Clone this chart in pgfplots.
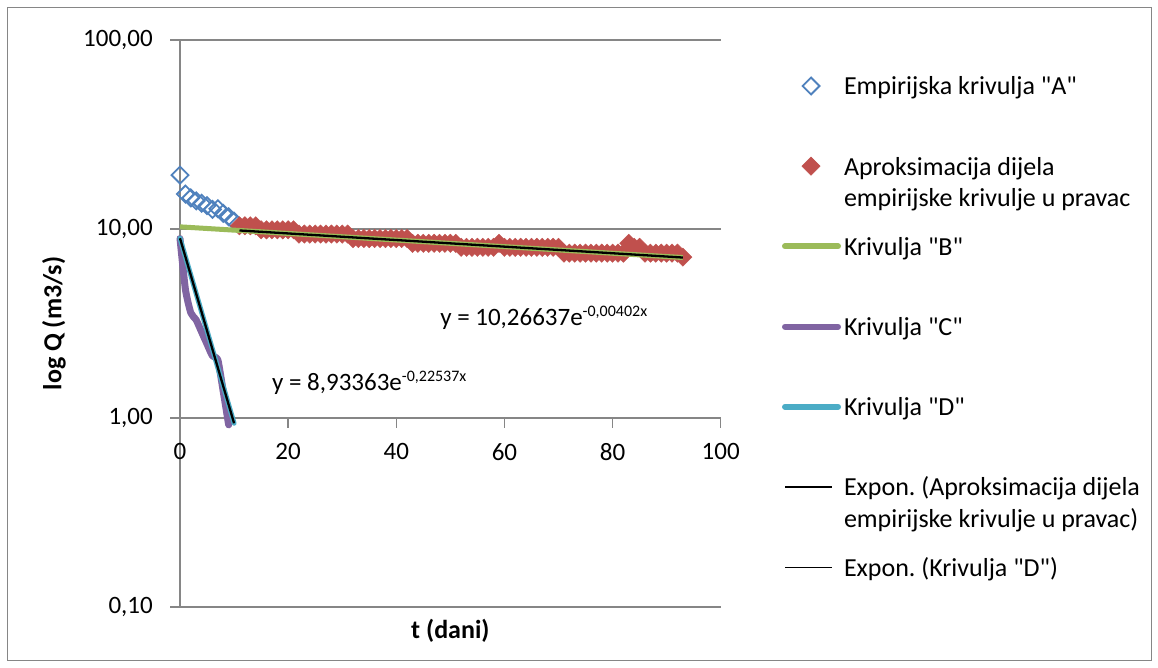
\documentclass[border=0pt]{standalone}
\usepackage{fontspec}
\setmainfont{Carlito}[Ligatures=TeXOff]
\usepackage{pgfplots}
\pgfplotsset{compat=1.18}
\definecolor{cA}{HTML}{4F81BD}
\definecolor{cR}{HTML}{C0504D}
\definecolor{cG}{HTML}{9BBB59}
\definecolor{cP}{HTML}{8064A2}
\definecolor{cC}{HTML}{4BACC6}
\definecolor{axgray}{HTML}{868686}
\newcommand\tfont{\fontsize{26bp}{31.5bp}\selectfont}
\newcommand\kfont{\fontsize{25bp}{30bp}\selectfont}
\newcommand\sfont{\fontsize{16bp}{18bp}\selectfont}
\pgfplotsset{
  leglinecol/.style={legend image code/.code={\draw[##1,line width=6bp,line cap=round] (1bp,0bp) -- (54bp,0bp);}},
  leglineblk/.style={legend image code/.code={\draw[##1,line width=1.3bp] (1bp,0bp) -- (48bp,0bp);}},
  legmark/.style={legend image code/.code={\draw[##1] plot coordinates {(27bp,0bp)};}},
}
\frenchspacing
\begin{document}
\begin{tikzpicture}
\useasboundingbox (0,0) rectangle (1158bp,668bp);
\draw[axgray, line width=1bp] (7bp,7bp) rectangle (1151bp,660bp);
\begin{axis}[
  at={(180bp,61bp)}, anchor=south west,
  scale only axis, width=540.7bp, height=567bp,
  ymode=log, xmin=0, xmax=100, ymin=0.1, ymax=100,
  axis x line=middle, axis y line=left,
  every inner x axis line/.append style={-},
  every outer y axis line/.append style={-},
  axis line style={-, line width=1.3bp, axgray},
  tick style={line width=1.3bp, axgray},
  tick align=outside, major tick length=10bp,
  yminorticks=false, xminorticks=false,
  ytick={0.1,1,10,100}, yticklabels={{0,10},{1,00},{10,00},{100,00}},
  xtick={0,20,40,60,80,100}, xticklabels={0,20,40,60,80,100},
  hide obscured x ticks=false,
  ymajorgrids, major grid style={line width=1.3bp, axgray},
  yticklabel style={font=\kfont, anchor=east, inner sep=0pt, xshift=-17bp},
  xticklabel style={font=\kfont, anchor=north, inner sep=0pt, yshift=-15bp},
  every axis y label/.style={at={(axis description cs:-0.233,0.5)}, rotate=90, anchor=center, font=\tfont\bfseries},
  every axis x label/.style={at={(axis description cs:0.5,-0.0423)}, anchor=center, font=\tfont\bfseries},
  ylabel={log Q (m3/s)}, xlabel={t (dani)},
  clip=false, clip marker paths=true,
  legend cell align=left,
  legend style={draw=none, fill=none, at={(1.11338,0.9896)}, anchor=north west,
    inner sep=0pt, outer sep=0pt, column sep=3bp, row sep=0pt, font=\tfont,
    nodes={inner sep=0pt, text height=49.1bp, text depth=31.1bp}},
]
% Empirijska krivulja "A"
\addplot[only marks, mark=square, mark size=6bp, mark options={rotate=45, line width=1.8bp, draw=cA, fill=none}, legmark] coordinates {
(0,19.3) (1,15.3) (2,14.6) (3,14.1) (4,13.7) (5,13.3) (6,12.7) (7,12.8) (8,12.1) (9,11.6) (10,11.0)};
\addlegendentry{Empirijska krivulja "A"}
% Aproksimacija
\addplot[only marks, mark=square*, mark size=6.5bp, mark options={rotate=45, draw=cR, fill=cR, line width=0.4bp}, legmark] coordinates {
(11,10.4) (12,10.4) (13,10.4) (14,10.4)
(15,9.9) (16,9.9) (17,9.9) (18,9.9) (19,9.9) (20,9.9) (21,9.9)
(22,9.4) (23,9.4) (24,9.4) (25,9.4) (26,9.4) (27,9.4) (28,9.4) (29,9.4) (30,9.4) (31,9.4)
(32,8.9) (33,8.9) (34,8.9) (35,8.9) (36,8.9) (37,8.9) (38,8.9) (39,8.9) (40,8.9) (41,8.9) (42,8.9)
(43,8.4) (44,8.4) (45,8.4) (46,8.4) (47,8.4) (48,8.4) (49,8.4) (50,8.4) (51,8.4)
(52,8.0) (53,8.0) (54,8.0) (55,8.0) (56,8.0) (57,8.0) (58,8.0)
(59,8.4)
(60,8.0) (61,8.0) (62,8.0) (63,8.0) (64,8.0) (65,8.0) (66,8.0) (67,8.0) (68,8.0) (69,8.0) (70,8.0)
(71,7.45) (72,7.45) (73,7.45) (74,7.45) (75,7.45) (76,7.45) (77,7.45) (78,7.45) (79,7.45) (80,7.45) (81,7.45) (82,7.45)
(83,8.4) (84,8.0) (85,8.0)
(86,7.45) (87,7.45) (88,7.45) (89,7.45) (90,7.45) (91,7.45) (92,7.45)
(93,7.1)};
\addlegendentry{\parbox[t]{330bp}{Aproksimacija dijela\\empirijske krivulje u pravac}}
% Krivulja B
\addplot[cG, line width=5bp, no markers, leglinecol] coordinates {
(0,10.266) (10,9.862) (20,9.473) (30,9.100) (40,8.741) (50,8.397) (60,8.066) (70,7.748) (80,7.443) (90,7.149) (93,7.064)};
\addlegendentry{Krivulja "B"}
% Krivulja C
\addplot[cP, line width=7bp, no markers, line join=round, line cap=round, smooth, tension=0.35, leglinecol] coordinates {
(0,8.9) (1,4.8) (2,3.6) (3,3.3) (4,2.85) (5,2.46) (6,2.13) (7,2.03) (8,1.38) (9,0.92)};
\addlegendentry{Krivulja "C"}
% Krivulja D
\addplot[cC, line width=5bp, no markers, line cap=round, leglinecol] coordinates {
(0,8.934) (1,7.131) (2,5.692) (3,4.544) (4,3.627) (5,2.895) (6,2.311) (7,1.845) (8,1.472) (9,1.175) (10,0.938)};
\addlegendentry{Krivulja "D"}
% Expon. trend (Aproksimacija)
\addplot[black, line width=2.3bp, no markers, leglineblk] coordinates {
(11,9.822) (30,9.100) (50,8.397) (70,7.748) (93,7.064)};
\addlegendentry{\parbox[t]{330bp}{Expon. (Aproksimacija dijela\\empirijske krivulje u pravac)}}
% Expon. trend (D)
\addplot[black, line width=2.3bp, no markers, leglineblk] coordinates {
(0,8.934) (5,2.895) (10,0.938)};
\addlegendentry{Expon. (Krivulja "D")}
\node[anchor=base west, font=\kfont, inner sep=0pt] at (axis cs:48.1,3.07) {y = 10,26637e\raisebox{9bp}{\sfont -0,00402x}};
\node[anchor=base west, font=\kfont, inner sep=0pt] at (axis cs:17.0,1.39) {y = 8,93363e\raisebox{9bp}{\sfont -0,22537x}};
\end{axis}
\end{tikzpicture}
\end{document}
